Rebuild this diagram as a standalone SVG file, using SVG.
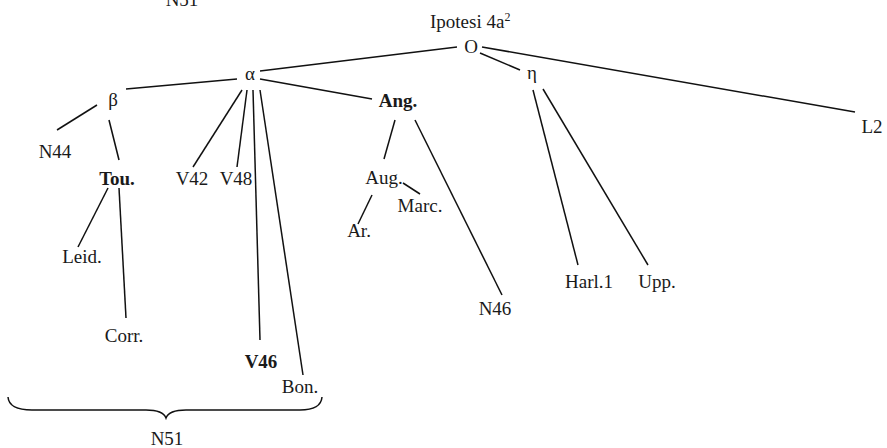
<svg xmlns="http://www.w3.org/2000/svg" width="887" height="448" viewBox="0 0 887 448">
<style>
text{font-family:"Liberation Serif","Times New Roman",serif;font-size:19px;fill:#1a1a1a;text-anchor:middle}
.b{font-weight:bold}
.e{stroke:#111;stroke-width:1.5;fill:none}
</style>
<rect width="887" height="448" fill="#fff"/>
<g id="connectors">
<line class="e" x1="126" y1="89" x2="237" y2="79"/>
<line class="e" x1="260" y1="71" x2="457" y2="47"/>
<line class="e" x1="260" y1="79" x2="372" y2="99"/>
<line class="e" x1="242" y1="90" x2="193" y2="167"/>
<line class="e" x1="247" y1="90" x2="237" y2="167"/>
<line class="e" x1="253" y1="90" x2="260" y2="340"/>
<line class="e" x1="260" y1="90" x2="303" y2="375"/>
<line class="e" x1="97" y1="105" x2="57" y2="130"/>
<line class="e" x1="109" y1="120" x2="119" y2="160"/>
<line class="e" x1="108" y1="188" x2="78" y2="247"/>
<line class="e" x1="119" y1="188" x2="126" y2="318"/>
<line class="e" x1="480" y1="53" x2="520" y2="70"/>
<line class="e" x1="482" y1="47" x2="855" y2="112"/>
<line class="e" x1="395" y1="120" x2="384" y2="159"/>
<line class="e" x1="415" y1="120" x2="502" y2="295"/>
<line class="e" x1="403" y1="183" x2="420" y2="194"/>
<line class="e" x1="372" y1="195" x2="358" y2="224"/>
<line class="e" x1="533" y1="90" x2="578" y2="265"/>
<line class="e" x1="543" y1="89" x2="648" y2="265"/>
<path class="e" d="M8,397 Q9,410 32,410 L146,410 Q163,410 166,418 Q169,410 186,410 L300,410 Q321,410 322,397"/>
</g>
<text x="182" y="6">N51</text>
<g id="title"><text x="430" y="28" style="text-anchor:start">Ipotesi 4a<tspan dy="-7" font-size="12">2</tspan></text></g>
<g id="O"><text x="471" y="53">O</text></g>
<g id="alpha"><text x="250" y="80">α</text></g>
<g id="eta"><text x="532" y="79">η</text></g>
<g id="beta"><text x="113" y="106">β</text></g>
<g id="L2"><text x="872" y="133">L2</text></g>
<g id="N44"><text x="55" y="158">N44</text></g>
<g id="Tou"><text class="b" x="117" y="185">Tou.</text></g>
<g id="V42"><text x="192" y="185">V42</text></g>
<g id="V48"><text x="236" y="185">V48</text></g>
<g id="Ang"><text class="b" x="398" y="107">Ang.</text></g>
<g id="Aug"><text x="384" y="184">Aug.</text></g>
<g id="Marc"><text x="420" y="212">Marc.</text></g>
<g id="Ar"><text x="359" y="237">Ar.</text></g>
<g id="Leid"><text x="82" y="263">Leid.</text></g>
<g id="Harl1"><text x="589" y="288">Harl.1</text></g>
<g id="Upp"><text x="657" y="288">Upp.</text></g>
<g id="N46"><text x="495" y="315">N46</text></g>
<g id="Corr"><text x="124" y="342">Corr.</text></g>
<g id="V46"><text class="b" x="261" y="368">V46</text></g>
<g id="Bon"><text x="300" y="393">Bon.</text></g>
<g id="N51"><text x="167" y="445">N51</text></g>
</svg>
